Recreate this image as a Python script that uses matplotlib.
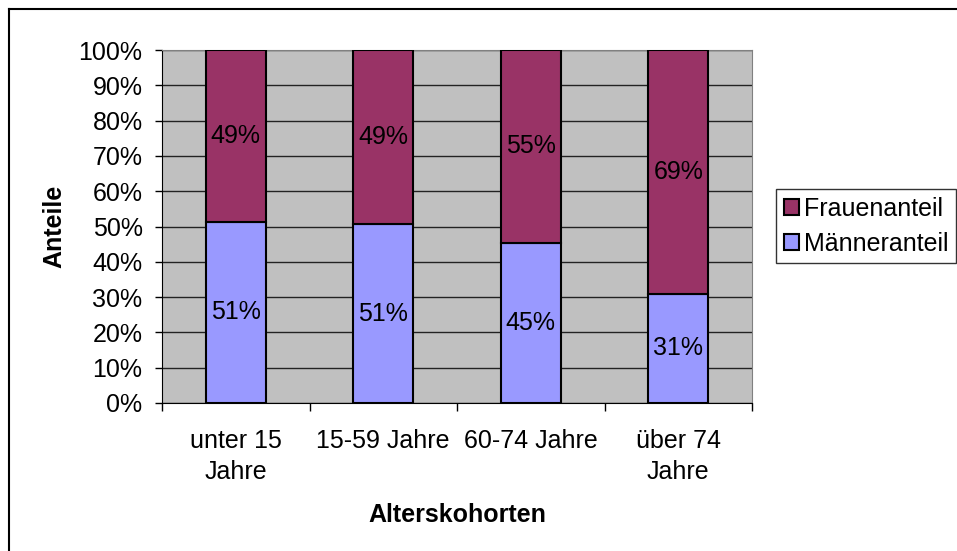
import numpy as np
import matplotlib.pyplot as plt
from matplotlib.patches import Patch
from matplotlib.lines import Line2D

# === Data ===
categories = ["unter 15\nJahre", "15-59 Jahre", "60-74 Jahre", "über 74\nJahre"]
maenner = [51.4, 50.6, 45.4, 30.9]
frauen = [100 - m for m in maenner]
y_ticks = list(range(0, 101, 10))

# === Style ===
plt.rcParams["font.family"] = ["Liberation Sans", "DejaVu Sans"]
FS = 18
C_FRAU = "#993366"
C_MANN = "#9999FF"
C_BG = "#C0C0C0"

fig = plt.figure(figsize=(9.57, 5.51), dpi=100)
ax = fig.add_axes([162 / 957, 148 / 551, 590 / 957, 353 / 551])
ax.set_facecolor(C_BG)

x = np.arange(len(categories))
width = 0.41
ax.bar(x, maenner, width, color=C_MANN, edgecolor="black", linewidth=1.5, zorder=3)
ax.bar(x, frauen, width, bottom=maenner, color=C_FRAU, edgecolor="black", linewidth=1.5, zorder=3)

for xi, m, f in zip(x, maenner, frauen):
    ax.text(xi, m / 2, f"{round(m):.0f}%", ha="center", va="center", fontsize=FS, zorder=4)
    ax.text(xi, m + f / 2, f"{round(f):.0f}%", ha="center", va="center", fontsize=FS, zorder=4)

ax.set_xlim(-0.5, len(categories) - 0.5)
ax.set_ylim(0, 100)

# y axis
ax.set_yticks(y_ticks)
ax.set_yticklabels([f"{t}%" for t in y_ticks], fontsize=FS)
ax.yaxis.grid(True, color="#222222", linewidth=1, zorder=1)
ax.tick_params(axis="y", direction="out", length=5, width=1, pad=9)

# x axis: ticks at category boundaries, labels at centers
ax.set_xticks(np.arange(len(categories) + 1) - 0.5)
ax.set_xticklabels([])
ax.tick_params(axis="x", which="major", direction="out", length=6, width=1)
ax.set_xticks(x, minor=True)
ax.set_xticklabels(categories, minor=True, fontsize=FS, linespacing=1.35)
ax.tick_params(axis="x", which="minor", length=0, pad=19)

for side in ["top", "right"]:
    ax.spines[side].set_color("#808080")
ax.spines["left"].set_color("black")
ax.spines["bottom"].set_color("black")

ax.set_ylabel("Anteile", fontsize=FS, fontweight="bold", labelpad=9)
ax.set_xlabel("Alterskohorten", fontsize=FS, fontweight="bold", labelpad=14)

# legend
handles = [
    Patch(facecolor=C_FRAU, edgecolor="black", linewidth=1.5, label="Frauenanteil"),
    Patch(facecolor=C_MANN, edgecolor="black", linewidth=1.5, label="Männeranteil"),
]
leg = fig.legend(handles=handles, loc="upper left", bbox_to_anchor=(776 / 957, 1 - 189 / 551),
                 fontsize=FS, frameon=True, fancybox=False, edgecolor="black",
                 handlelength=0.6, handleheight=0.6, handletextpad=0.2,
                 borderpad=0.3, labelspacing=0.45, borderaxespad=0)
leg.get_frame().set_linewidth(1)

# chart border (top and left, the rest is cut off)
fig.add_artist(Line2D([9 / 957, 1], [1 - 9 / 551, 1 - 9 / 551], color="black", linewidth=1.5))
fig.add_artist(Line2D([9 / 957, 9 / 957], [0, 1 - 9 / 551], color="black", linewidth=1.5))

fig.savefig("out.png", dpi=100, facecolor="white")
